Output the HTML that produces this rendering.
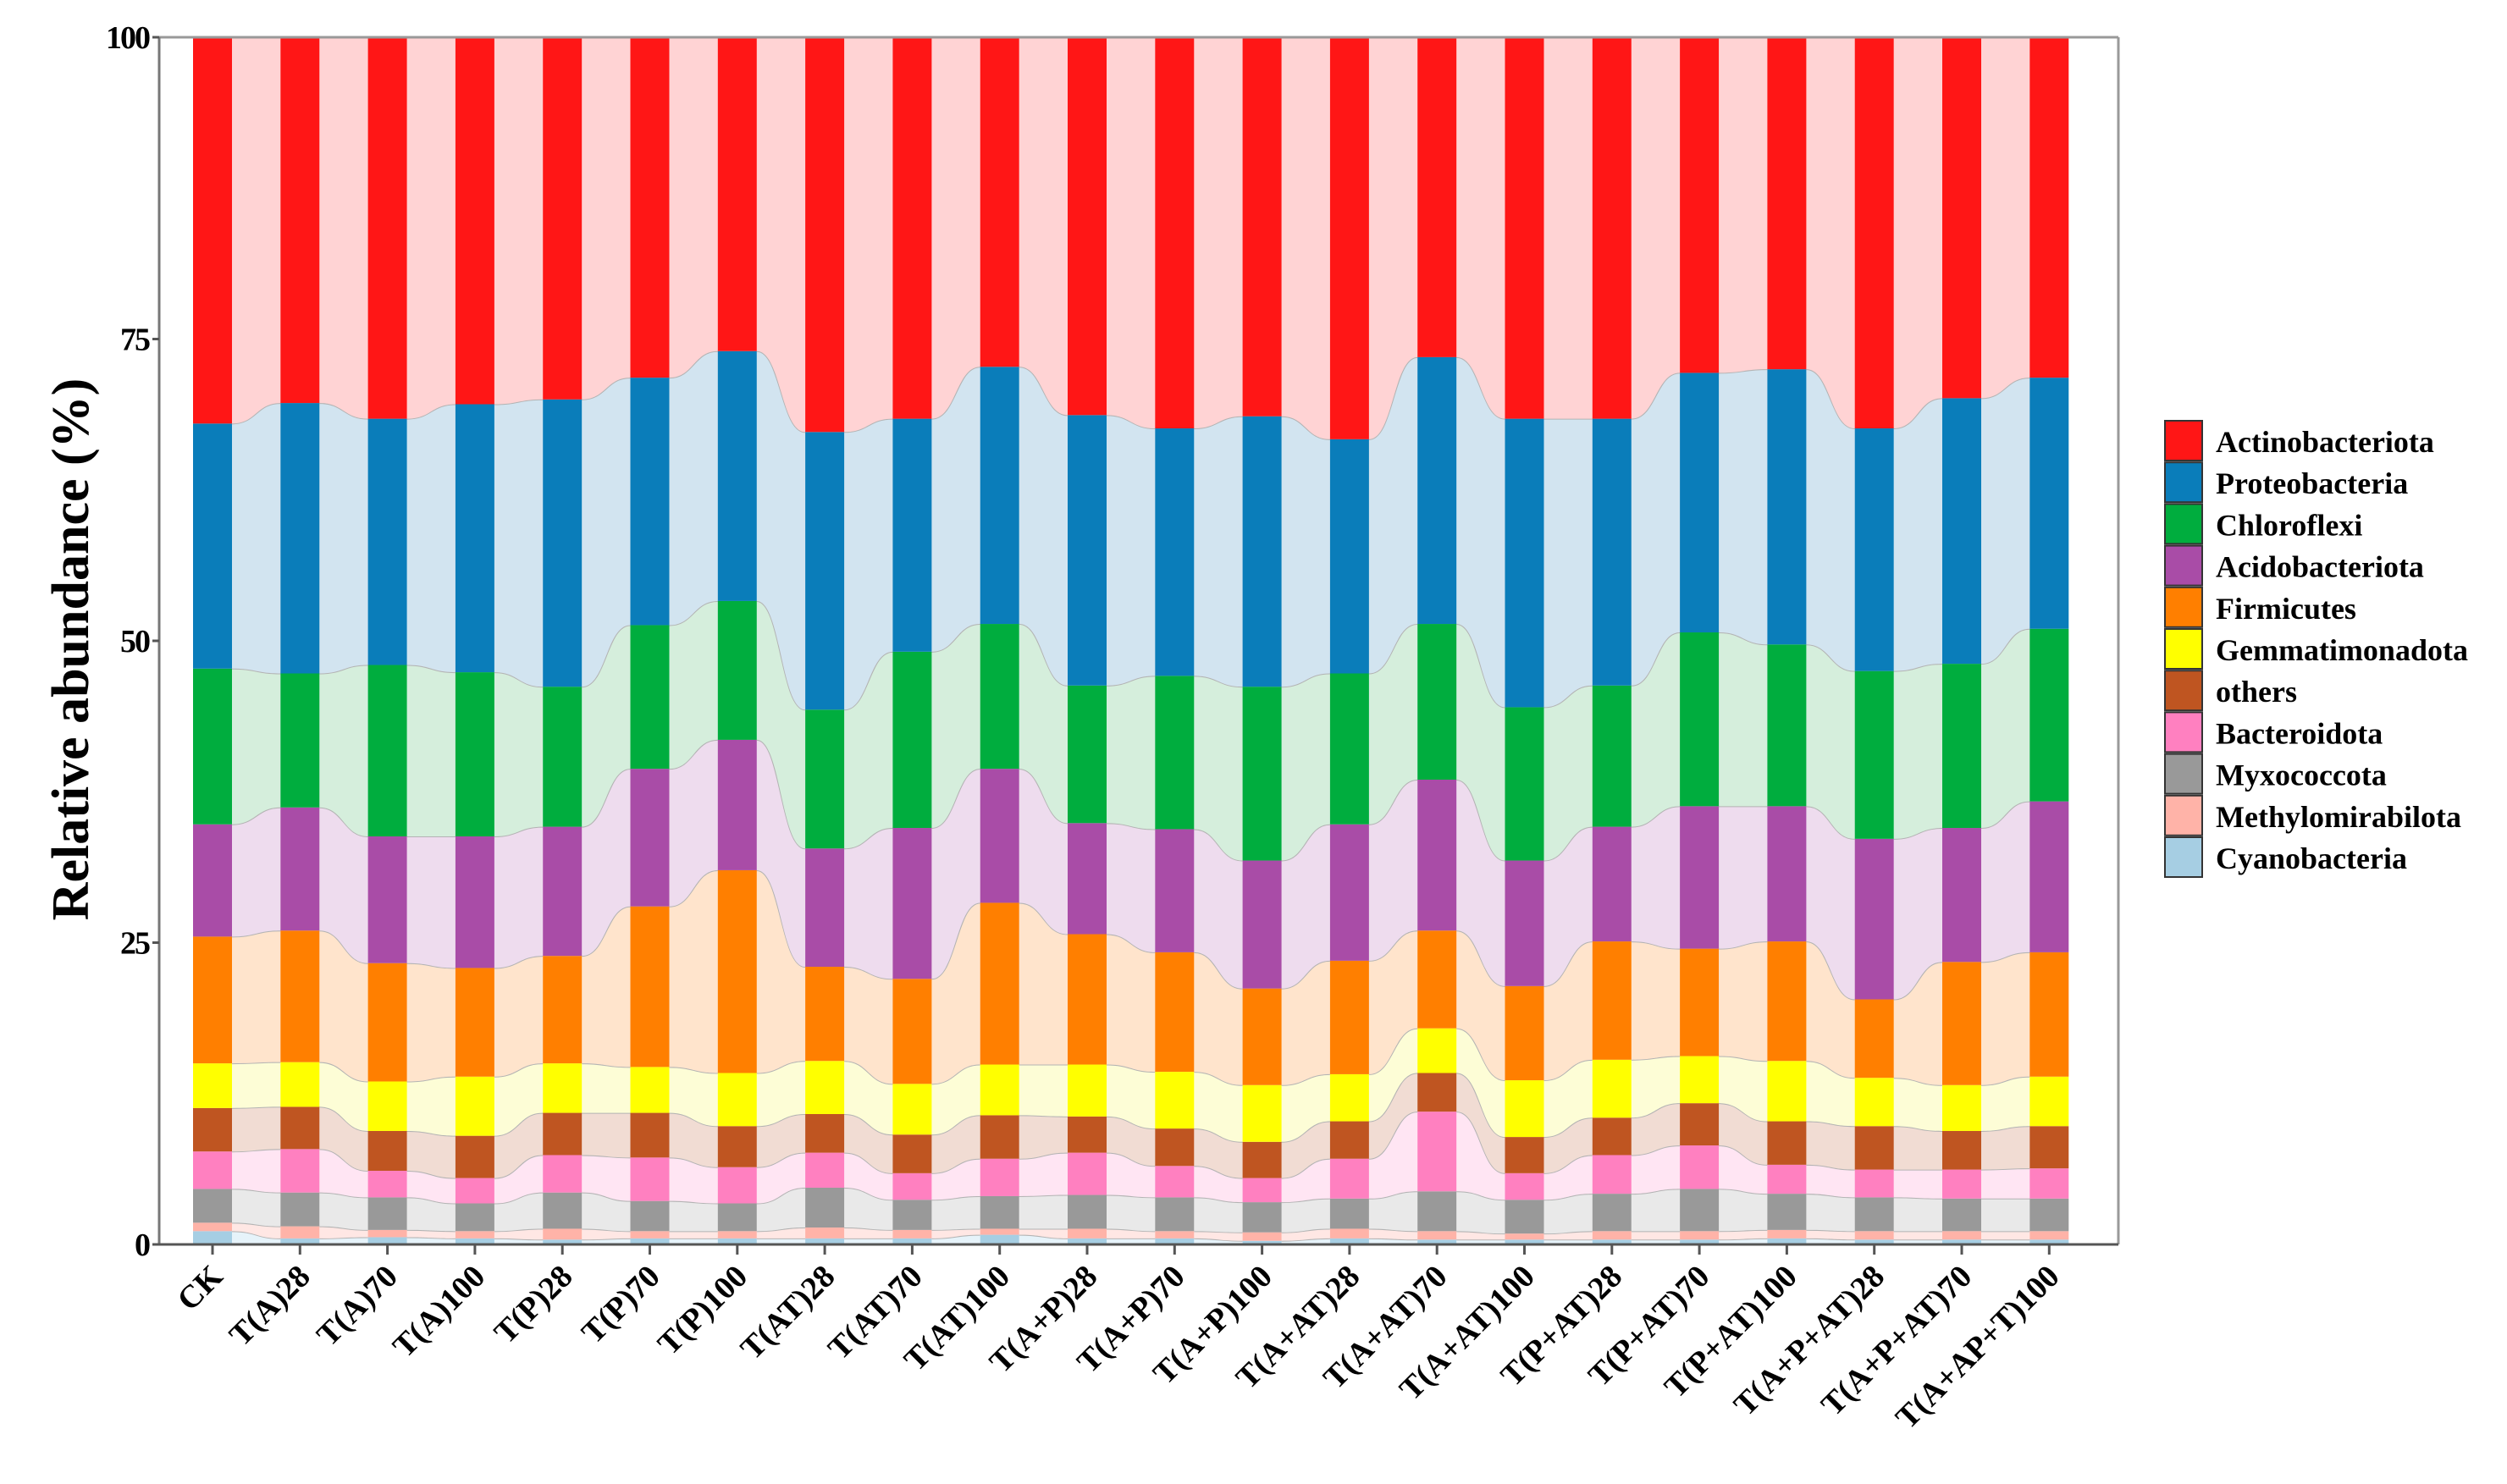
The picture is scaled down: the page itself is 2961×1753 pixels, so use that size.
<!DOCTYPE html>
<html><head><meta charset="utf-8"><style>
html,body{margin:0;padding:0;background:#fff;}
svg text{font-family:"Liberation Serif",serif;font-weight:bold;fill:#000;}
</style></head><body>
<svg id="chart" width="2961" height="1748" viewBox="0 0 2961 1748" xmlns="http://www.w3.org/2000/svg">
<g id="flows"></g>
<g id="bars"></g>
<g id="axes"></g>
<g id="legend"></g>
</svg>
<script>
const categories=["CK","T(A)28","T(A)70","T(A)100","T(P)28","T(P)70","T(P)100","T(AT)28","T(AT)70","T(AT)100","T(A+P)28","T(A+P)70","T(A+P)100","T(A+AT)28","T(A+AT)70","T(A+AT)100","T(P+AT)28","T(P+AT)70","T(P+AT)100","T(A+P+AT)28","T(A+P+AT)70","T(A+AP+T)100"];
const seriesNames=["Cyanobacteria","Methylomirabilota","Myxococcota","Bacteroidota","others","Gemmatimonadota","Firmicutes","Acidobacteriota","Chloroflexi","Proteobacteria","Actinobacteriota"];
// cumulative top boundary of each series (percent)
const cyanoTop=[1.1,0.5,0.6,0.5,0.4,0.5,0.5,0.5,0.5,0.8,0.5,0.5,0.3,0.5,0.4,0.4,0.4,0.4,0.5,0.4,0.4,0.4];
const methyloTop=[1.8,1.5,1.2,1.1,1.3,1.1,1.1,1.4,1.2,1.3,1.3,1.1,1.0,1.3,1.1,0.9,1.1,1.1,1.2,1.1,1.1,1.1];
const myxoTop=[4.6,4.3,3.9,3.4,4.3,3.6,3.4,4.7,3.7,4.0,4.1,3.9,3.5,3.8,4.4,3.7,4.2,4.6,4.2,3.9,3.8,3.8];
const bacteroTop=[7.7,7.9,6.1,5.5,7.4,7.2,6.4,7.6,5.9,7.1,7.6,6.5,5.5,7.1,11.0,5.9,7.4,8.2,6.6,6.2,6.2,6.3];
const othersTop=[11.3,11.4,9.4,9.0,10.9,10.9,9.8,10.8,9.1,10.7,10.6,9.6,8.5,10.2,14.2,8.9,10.5,11.7,10.2,9.8,9.4,9.8];
const gemmaTop=[15.0,15.1,13.5,13.9,15.0,14.7,14.2,15.2,13.3,14.9,14.9,14.3,13.2,14.1,17.9,13.6,15.3,15.6,15.2,13.8,13.2,13.9];
const firmiTop=[25.5,26.0,23.3,22.9,23.9,28.0,31.0,23.0,22.0,28.3,25.7,24.2,21.2,23.5,26.0,21.4,25.1,24.5,25.1,20.3,23.4,24.2];
const acidoTop=[34.8,36.2,33.8,33.8,34.6,39.4,41.8,32.8,34.5,39.4,34.9,34.4,31.8,34.8,38.5,31.8,34.6,36.3,36.3,33.6,34.5,36.7];
const chloroTop=[47.7,47.3,48.0,47.4,46.2,51.3,53.3,44.3,49.1,51.4,46.3,47.1,46.2,47.3,51.4,44.5,46.3,50.7,49.7,47.5,48.1,51.0];
const proteoTop=[68.0,69.7,68.4,69.6,70.0,71.8,74.0,67.3,68.4,72.7,68.7,67.6,68.6,66.7,73.5,68.4,68.4,72.2,72.5,67.6,70.1,71.8];
const actinoTop=[100,100,100,100,100,100,100,100,100,100,100,100,100,100,100,100,100,100,100,100,100,100];
const yTicks=[0,25,50,75,100];

const tops=[cyanoTop,methyloTop,myxoTop,bacteroTop,othersTop,gemmaTop,firmiTop,acidoTop,chloroTop,proteoTop,actinoTop];
const colors=["#a6cee3","#ffb3a8","#999999","#ff80c0","#bf5521","#ffff00","#ff7f00","#a94ca7","#00ad3e","#0a7dba","#ff1616"];
const light=["#e6f3fa","#ffe7e4","#e9e9e9","#ffe5f3","#f1dcd3","#fdfdd6","#ffe4cc","#eedcee","#d5eedc","#d2e4f0","#ffd3d4"];
const NS="http://www.w3.org/2000/svg";
const L=188,R=2502,T=44,B=1470,bw=46,x0=251,step=103.3;
const y=v=>B-(v/100)*(B-T);
const xc=i=>x0+i*step;
function el(tag,attrs,parent){const e=document.createElementNS(NS,tag);for(const k in attrs)e.setAttribute(k,attrs[k]);parent.appendChild(e);return e;}
const flows=document.getElementById('flows'),bars=document.getElementById('bars'),axes=document.getElementById('axes'),legend=document.getElementById('legend');
const n=categories.length;
for(let s=0;s<tops.length;s++){
  const top=tops[s],bot=s>0?tops[s-1]:null;
  for(let i=0;i<n-1;i++){
    const xa=xc(i)+bw/2,xb=xc(i+1)-bw/2,xm=(xa+xb)/2;
    const ta=y(top[i]),tb=y(top[i+1]),ba=bot?y(bot[i]):B,bb=bot?y(bot[i+1]):B;
    const p=el('path',{d:`M${xa},${ta} C${xm},${ta} ${xm},${tb} ${xb},${tb} L${xb},${bb} C${xm},${bb} ${xm},${ba} ${xa},${ba} Z`,fill:light[s]},flows);
    
    
    if(s<tops.length-1){
      const ln=el('path',{d:`M${xa},${ta} C${xm},${ta} ${xm},${tb} ${xb},${tb}`,fill:'none',stroke:'#b3b3b3','stroke-width':2},flows);
      
      
    }
  }
  for(let i=0;i<n;i++){
    const b0=bot?bot[i]:0;
    const r=el('rect',{x:xc(i)-bw/2,y:y(top[i]),width:bw,height:y(b0)-y(top[i]),fill:colors[s]},bars);
    
    
  }
}
// frame
el('line',{x1:L,y1:T,x2:R,y2:T,stroke:'#999','stroke-width':3},axes);
el('line',{x1:R,y1:T,x2:R,y2:B,stroke:'#999','stroke-width':3},axes);
el('line',{x1:L,y1:T,x2:L,y2:B,stroke:'#777','stroke-width':3},axes);
el('line',{x1:L,y1:B,x2:R,y2:B,stroke:'#555','stroke-width':3},axes);
yTicks.forEach(v=>{
  el('line',{x1:L-8,y1:y(v),x2:L,y2:y(v),stroke:'#555','stroke-width':3},axes);
  const t=el('text',{x:L-12,y:y(v)+13,'text-anchor':'end','font-size':38,'letter-spacing':-2},axes);
  t.textContent=v;
  
  
});
categories.forEach((c,i)=>{
  el('line',{x1:xc(i),y1:B,x2:xc(i),y2:B+12,stroke:'#555','stroke-width':3},axes);
  const t=el('text',{x:xc(i)+14,y:B+40,'text-anchor':'end','font-size':38,transform:`rotate(-45 ${xc(i)+14} ${B+40})`},axes);
  t.textContent=c;
  
  
});
const yt=el('text',{x:0,y:0,'text-anchor':'middle','font-size':62,transform:`translate(104 ${(T+B)/2+10}) rotate(-90)`},axes);
yt.textContent='Relative abundance (%)';


// legend (top to bottom: Actinobacteriota ... Cyanobacteria)
for(let k=0;k<seriesNames.length;k++){
  const s=seriesNames.length-1-k, yy=497+k*49.2;
  const r=el('rect',{x:2557,y:yy,width:44,height:47,fill:colors[s],stroke:'#333','stroke-width':2},legend);
  
  
  const t=el('text',{x:2617,y:yy+37,'font-size':36},legend);
  t.textContent=seriesNames[s];
  
  
}
</script>
</body></html>
